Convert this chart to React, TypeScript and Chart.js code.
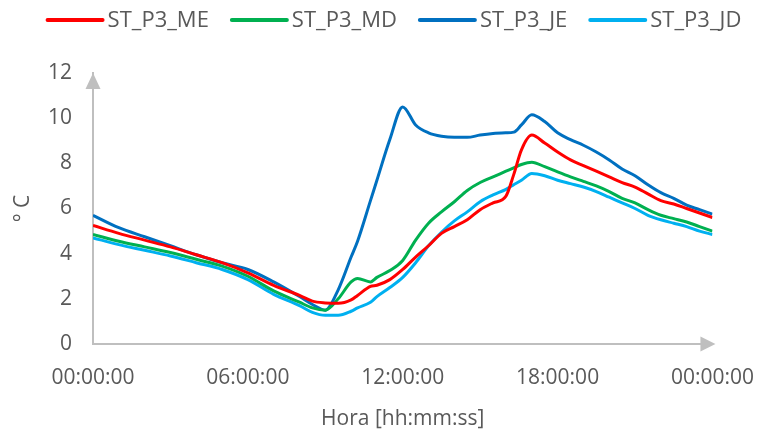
import React, { useEffect, useRef } from 'react';
import { Chart, registerables } from 'chart.js';

Chart.register(...registerables);

// ---- data ----
const hours = [0, 1, 2, 3, 4, 5, 6, 7, 8, 8.5, 9, 9.5, 10, 10.25, 10.75, 11, 11.5, 12, 12.5, 13, 13.5, 14, 14.5, 15, 15.5, 16, 16.3, 16.6, 17, 17.5, 18, 18.5, 19, 19.5, 20, 20.5, 21, 21.5, 22, 22.5, 23, 23.5, 24];

const seriesNames = ['ST_P3_ME', 'ST_P3_MD', 'ST_P3_JE', 'ST_P3_JD'];
const seriesColors = ['#FF0000', '#00B050', '#0070C0', '#00B0F0'];

const stP3ME = [5.25, 4.9, 4.6, 4.3, 3.95, 3.6, 3.15, 2.6, 2.15, 1.9, 1.82, 1.8, 1.95, 2.15, 2.55, 2.6, 2.85, 3.3, 3.85, 4.35, 4.9, 5.2, 5.5, 5.95, 6.25, 6.55, 7.5, 8.6, 9.25, 8.9, 8.5, 8.15, 7.9, 7.65, 7.4, 7.15, 6.95, 6.65, 6.35, 6.2, 6.0, 5.8, 5.6];
const stP3MD = [4.85, 4.55, 4.3, 4.05, 3.75, 3.45, 3.0, 2.35, 1.85, 1.6, 1.5, 2.0, 2.75, 2.9, 2.75, 2.95, 3.25, 3.7, 4.6, 5.35, 5.85, 6.3, 6.8, 7.15, 7.4, 7.65, 7.8, 7.95, 8.05, 7.85, 7.62, 7.4, 7.2, 7.0, 6.75, 6.45, 6.25, 5.95, 5.7, 5.55, 5.4, 5.2, 5.0];
const stP3JE = [5.7, 5.15, 4.75, 4.35, 3.95, 3.6, 3.3, 2.75, 2.1, 1.75, 1.5, 2.4, 3.85, 4.55, 6.35, 7.25, 9.05, 10.5, 9.7, 9.35, 9.2, 9.15, 9.15, 9.25, 9.32, 9.35, 9.38, 9.7, 10.15, 9.85, 9.35, 9.05, 8.8, 8.5, 8.15, 7.75, 7.45, 7.05, 6.7, 6.45, 6.15, 5.95, 5.75];
const stP3JD = [4.7, 4.4, 4.15, 3.9, 3.6, 3.3, 2.85, 2.2, 1.7, 1.4, 1.27, 1.27, 1.45, 1.6, 1.85, 2.1, 2.5, 2.95, 3.6, 4.35, 4.95, 5.45, 5.85, 6.3, 6.6, 6.85, 7.05, 7.25, 7.55, 7.45, 7.25, 7.1, 6.95, 6.75, 6.5, 6.25, 6.0, 5.7, 5.5, 5.35, 5.2, 5.0, 4.85];

const seriesValues = [stP3ME, stP3MD, stP3JE, stP3JD];

const xTickHours = [0, 6, 12, 18, 24];
const xTickLabels = ['00:00:00', '06:00:00', '12:00:00', '18:00:00', '00:00:00'];
const yTickValues = [0, 2, 4, 6, 8, 10, 12];

const xTitle = 'Hora [hh:mm:ss]';
const yTitle = '° C';

// ---- style ----
const FONT = "'Open Sans', 'Noto Sans', sans-serif";
const TEXT = '#595959';
const AXIS = '#BFBFBF';

const axisArrows = {
  id: 'axisArrows',
  afterDraw(chart: any) {
    const { ctx, chartArea } = chart;
    const { left, top, right, bottom } = chartArea;
    ctx.save();
    ctx.fillStyle = AXIS;
    ctx.beginPath();
    ctx.moveTo(left, top);
    ctx.lineTo(left - 7.5, top + 16);
    ctx.lineTo(left + 7.5, top + 16);
    ctx.closePath();
    ctx.fill();
    ctx.beginPath();
    ctx.moveTo(right + 3, bottom);
    ctx.lineTo(right - 12, bottom - 7.5);
    ctx.lineTo(right - 12, bottom + 7.5);
    ctx.closePath();
    ctx.fill();
    ctx.restore();
  },
};

const topLegend = {
  id: 'topLegend',
  afterDraw(chart: any) {
    const ctx = chart.ctx;
    ctx.save();
    ctx.font = `22px ${FONT}`;
    const lineLen = 55;
    const gap = 5;
    const itemGap = 23;
    const items = chart.data.datasets.map((ds: any) => ({
      label: ds.label,
      color: ds.borderColor,
      w: ctx.measureText(ds.label).width,
    }));
    const total = items.reduce((s: number, it: any) => s + lineLen + gap + it.w, 0) + itemGap * (items.length - 1);
    let x = chart.width / 2 + 7 - total / 2;
    const y = 20;
    items.forEach((it: any) => {
      ctx.strokeStyle = it.color;
      ctx.lineWidth = 4;
      ctx.lineCap = 'round';
      ctx.beginPath();
      ctx.moveTo(x, y);
      ctx.lineTo(x + lineLen, y);
      ctx.stroke();
      ctx.fillStyle = TEXT;
      ctx.textBaseline = 'middle';
      ctx.textAlign = 'left';
      ctx.fillText(it.label, x + lineLen + gap, y + 1);
      x += lineLen + gap + it.w + itemGap;
    });
    ctx.restore();
  },
};

export default function App() {
  const canvasRef = useRef<HTMLCanvasElement | null>(null);

  useEffect(() => {
    document.body.style.margin = '0';
    const canvas = canvasRef.current;
    if (!canvas) return;
    const chart = new Chart(canvas, {
      type: 'line',
      data: {
        datasets: seriesNames.map((name, i) => ({
          label: name,
          data: hours.map((h, j) => ({ x: h, y: seriesValues[i][j] })),
          borderColor: seriesColors[i],
          backgroundColor: seriesColors[i],
          borderWidth: 3,
          pointRadius: 0,
          fill: false,
          cubicInterpolationMode: 'monotone' as const,
        })),
      },
      options: {
        responsive: false,
        animation: false,
        layout: { padding: { top: 73, right: 48, bottom: 0, left: 0 } },
        plugins: {
          legend: { display: false },
          tooltip: { enabled: false },
        },
        scales: {
          x: {
            type: 'linear',
            min: 0,
            max: 24,
            afterFit: (scale: any) => {
              scale.height = 94;
            },
            afterBuildTicks: (scale: any) => {
              scale.ticks = xTickHours.map((v) => ({ value: v }));
            },
            grid: { display: false, drawTicks: false },
            border: { display: true, color: AXIS, width: 2 },
            ticks: {
              padding: 21,
              color: TEXT,
              font: { family: FONT, size: 21 },
              maxRotation: 0,
              autoSkip: false,
              callback: (_v: any, idx: number) => xTickLabels[idx],
            },
            title: {
              display: true,
              text: xTitle,
              color: TEXT,
              font: { family: FONT, size: 21 },
              padding: { top: 0, bottom: 6 },
            },
          },
          y: {
            type: 'linear',
            min: 0,
            max: 12,
            afterFit: (scale: any) => {
              scale.width = 93;
            },
            afterBuildTicks: (scale: any) => {
              scale.ticks = yTickValues.map((v) => ({ value: v }));
            },
            grid: { display: false, drawTicks: false },
            border: { display: true, color: AXIS, width: 2 },
            ticks: {
              padding: 21,
              color: TEXT,
              font: { family: FONT, size: 21 },
            },
            title: {
              display: true,
              text: yTitle,
              color: TEXT,
              font: { family: FONT, size: 21 },
              padding: { top: 10, bottom: 0 },
            },
          },
        },
      },
      plugins: [axisArrows, topLegend],
    });
    return () => chart.destroy();
  }, []);

  return (
    <div style={{ width: 775, height: 438 }}>
      <canvas ref={canvasRef} width={775} height={438} style={{ display: 'block' }} />
    </div>
  );
}
